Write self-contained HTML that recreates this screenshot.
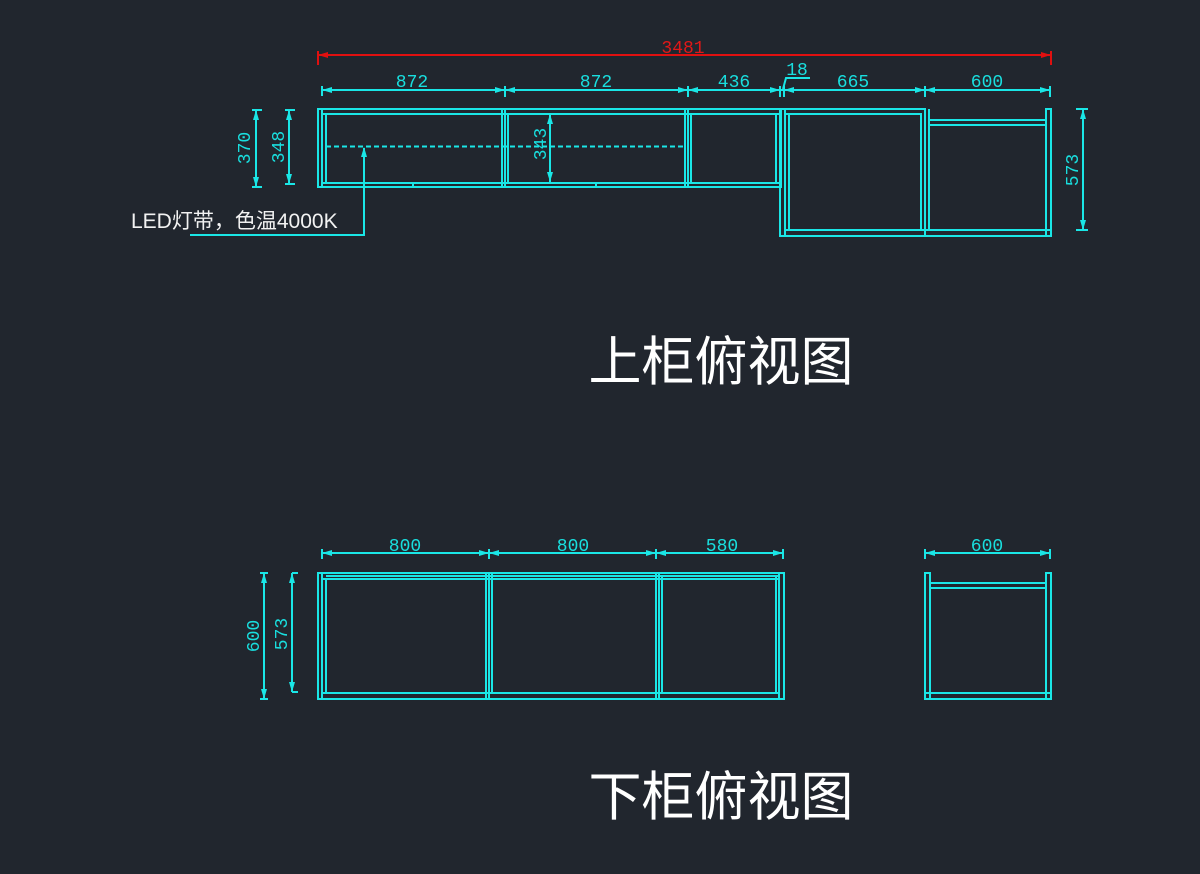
<!DOCTYPE html>
<html><head><meta charset="utf-8"><style>
html,body{margin:0;padding:0;background:#21262e;}
svg{display:block}
.c{stroke:#1ae6e6;stroke-width:2;fill:none}
.t{fill:#19dede;font-family:"Liberation Mono",monospace;font-size:18px;text-anchor:middle}
.a{fill:#1ae6e6;stroke:none}
</style></head><body>
<svg width="1200" height="874" viewBox="0 0 1200 874" xmlns="http://www.w3.org/2000/svg">
<rect width="1200" height="874" fill="#21262e"/>
<g stroke="#e01010" stroke-width="2" fill="none">
<line x1="318" y1="55" x2="1051" y2="55"/><line x1="318" y1="51" x2="318" y2="65"/><line x1="1051" y1="51" x2="1051" y2="65"/>
</g>
<polygon points="318,55 328,52 328,58" fill="#e01010"/><polygon points="1051,55 1041,52 1041,58" fill="#e01010"/>
<text x="683" y="53" style="fill:#e01818;font-family:'Liberation Mono',monospace;font-size:18px;text-anchor:middle">3481</text>

<g class="c">
<line x1="322" y1="90" x2="1050" y2="90"/>
<line x1="322" y1="86" x2="322" y2="96"/><line x1="505" y1="86" x2="505" y2="97"/><line x1="688" y1="86" x2="688" y2="97"/>
<line x1="780" y1="86" x2="780" y2="97"/><line x1="784" y1="86" x2="784" y2="97"/><line x1="925" y1="86" x2="925" y2="97"/><line x1="1050" y1="86" x2="1050" y2="97"/>
<polyline points="783,89 786,78 810,78"/>
</g>
<g class="a">
<polygon points="322,90 332,87 332,93"/><polygon points="505,90 495,87 495,93"/><polygon points="505,90 515,87 515,93"/>
<polygon points="688,90 678,87 678,93"/><polygon points="688,90 698,87 698,93"/><polygon points="780,90 770,87 770,93"/>
<polygon points="784,90 794,87 794,93"/><polygon points="925,90 915,87 915,93"/><polygon points="925,90 935,87 935,93"/><polygon points="1050,90 1040,87 1040,93"/>
</g>
<text class="t" x="412" y="87">872</text><text class="t" x="596" y="87">872</text><text class="t" x="734" y="87">436</text>
<text class="t" x="797" y="75">18</text><text class="t" x="853" y="87">665</text><text class="t" x="987" y="87">600</text>

<g class="c">
<rect x="318" y="109" width="463" height="78"/>
<line x1="322" y1="109" x2="322" y2="187"/><line x1="326" y1="114" x2="326" y2="183"/>
<line x1="322" y1="114" x2="781" y2="114"/><line x1="322" y1="183" x2="781" y2="183"/>
<line x1="502" y1="109" x2="502" y2="187"/><line x1="505" y1="109" x2="505" y2="187"/><line x1="508" y1="114" x2="508" y2="183"/>
<line x1="685" y1="109" x2="685" y2="187"/><line x1="688" y1="109" x2="688" y2="187"/><line x1="691" y1="114" x2="691" y2="183"/>
<line x1="776" y1="114" x2="776" y2="183"/>
<line x1="413" y1="183" x2="413" y2="187"/><line x1="596" y1="183" x2="596" y2="187"/>
<line x1="326" y1="146.5" x2="685" y2="146.5" stroke-dasharray="5,3"/>
<rect x="780" y="109" width="145" height="127"/>
<line x1="785" y1="109" x2="785" y2="236"/><line x1="789" y1="114" x2="789" y2="230"/>
<line x1="785" y1="114" x2="922" y2="114"/><line x1="785" y1="230" x2="1050" y2="230"/>
<line x1="921" y1="114" x2="921" y2="230"/><line x1="925" y1="109" x2="925" y2="236"/><line x1="929" y1="109" x2="929" y2="230"/>
<line x1="925" y1="236" x2="1051" y2="236"/>
<rect x="1046" y="109" width="5" height="127"/>
<line x1="929" y1="120" x2="1046" y2="120"/><line x1="929" y1="125" x2="1046" y2="125"/>
<polyline points="364,148 364,235 190,235"/>
<line x1="256" y1="110" x2="256" y2="187"/><line x1="252" y1="110" x2="262" y2="110"/><line x1="252" y1="187" x2="262" y2="187"/>
<line x1="289" y1="110" x2="289" y2="184"/><line x1="285" y1="110" x2="295" y2="110"/><line x1="285" y1="184" x2="295" y2="184"/>
<line x1="550" y1="114" x2="550" y2="182"/>
<line x1="1083" y1="109" x2="1083" y2="230"/><line x1="1076" y1="109" x2="1088" y2="109"/><line x1="1076" y1="230" x2="1088" y2="230"/>
</g>
<g class="a">
<polygon points="256,110 253,120 259,120"/><polygon points="256,187 253,177 259,177"/>
<polygon points="289,110 286,120 292,120"/><polygon points="289,184 286,174 292,174"/>
<polygon points="550,114 547,124 553,124"/><polygon points="550,182 547,172 553,172"/>
<polygon points="1083,109 1080,119 1086,119"/><polygon points="1083,230 1080,220 1086,220"/>
<polygon points="364,147 361,157 367,157"/>
</g>
<text class="t" transform="translate(250,148) rotate(-90)">370</text>
<text class="t" transform="translate(284,147) rotate(-90)">348</text>
<text class="t" transform="translate(546,144) rotate(-90)">343</text>
<text class="t" transform="translate(1078,170) rotate(-90)">573</text>
<text x="131" y="228" style="fill:#f2f2f2;font-family:'Liberation Sans','Noto Sans CJK SC',sans-serif;font-size:21px">LED灯带，色温4000K</text>

<text x="721" y="380" style="fill:#ffffff;font-family:'Liberation Sans','Noto Sans CJK SC',sans-serif;font-size:53px;text-anchor:middle">上柜俯视图</text>
<text x="721" y="815" style="fill:#ffffff;font-family:'Liberation Sans','Noto Sans CJK SC',sans-serif;font-size:53px;text-anchor:middle">下柜俯视图</text>

<g class="c">
<line x1="322" y1="553" x2="783" y2="553"/>
<line x1="322" y1="549" x2="322" y2="559"/><line x1="489" y1="549" x2="489" y2="559"/><line x1="656" y1="549" x2="656" y2="559"/><line x1="783" y1="549" x2="783" y2="559"/>
<line x1="925" y1="553" x2="1050" y2="553"/><line x1="925" y1="549" x2="925" y2="559"/><line x1="1050" y1="549" x2="1050" y2="559"/>
<rect x="318" y="573" width="466" height="126"/>
<line x1="322" y1="573" x2="322" y2="699"/><line x1="326" y1="579" x2="326" y2="693"/>
<line x1="322" y1="579" x2="779" y2="579"/><line x1="322" y1="693" x2="779" y2="693"/>
<line x1="326" y1="576" x2="779" y2="576"/>
<line x1="486" y1="573" x2="486" y2="699"/><line x1="489" y1="573" x2="489" y2="699"/><line x1="492" y1="573" x2="492" y2="693"/>
<line x1="656" y1="573" x2="656" y2="699"/><line x1="659" y1="573" x2="659" y2="699"/><line x1="662" y1="576" x2="662" y2="693"/>
<line x1="776" y1="576" x2="776" y2="693"/><line x1="779" y1="573" x2="779" y2="699"/>
<rect x="925" y="573" width="5" height="126"/><rect x="1046" y="573" width="5" height="126"/>
<rect x="930" y="583" width="116" height="5"/>
<rect x="925" y="693" width="126" height="6"/>
<line x1="264" y1="573" x2="264" y2="699"/><line x1="260" y1="573" x2="268" y2="573"/><line x1="260" y1="699" x2="268" y2="699"/>
<line x1="292" y1="573" x2="292" y2="692"/><line x1="292" y1="573" x2="298" y2="573"/><line x1="292" y1="692" x2="298" y2="692"/>
</g>
<g class="a">
<polygon points="322,553 332,550 332,556"/><polygon points="489,553 479,550 479,556"/><polygon points="489,553 499,550 499,556"/>
<polygon points="656,553 646,550 646,556"/><polygon points="656,553 666,550 666,556"/><polygon points="783,553 773,550 773,556"/>
<polygon points="925,553 935,550 935,556"/><polygon points="1050,553 1040,550 1040,556"/>
<polygon points="264,573 261,583 267,583"/><polygon points="264,699 261,689 267,689"/>
<polygon points="292,573 289,583 295,583"/><polygon points="292,692 289,682 295,682"/>
</g>
<text class="t" x="405" y="551">800</text><text class="t" x="573" y="551">800</text><text class="t" x="722" y="551">580</text><text class="t" x="987" y="551">600</text>
<text class="t" transform="translate(259,636) rotate(-90)">600</text>
<text class="t" transform="translate(287,634) rotate(-90)">573</text>
</svg>
</body></html>
